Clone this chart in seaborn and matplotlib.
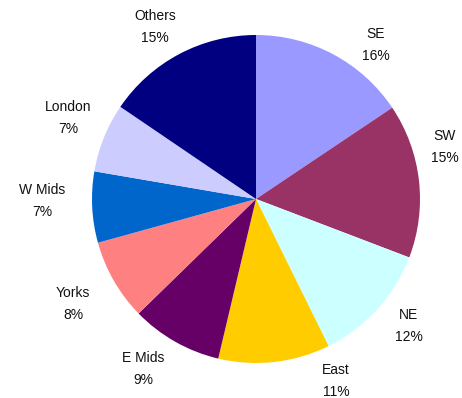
import seaborn as sns
import matplotlib.pyplot as plt

regions = ["SE", "SW", "NE", "East", "E Mids", "Yorks", "W Mids", "London", "Others"]
shares = [15.6, 15.2, 11.9, 11.0, 9.0, 8.0, 7.0, 6.8, 15.5]
pct_labels = ["16%", "15%", "12%", "11%", "9%", "8%", "7%", "7%", "15%"]
colors = ["#9999FF", "#993366", "#CCFFFF", "#FFCC00", "#660066",
          "#FF8080", "#0066CC", "#CCCCFF", "#000080"]

# label centres in pixels (Excel-style placement, not at slice midpoints)
label_px = [(376, 45), (445, 147), (409, 326), (336, 381), (143, 369),
            (73, 304), (42, 201), (68, 118), (155, 27)]

sns.set_style("white")
plt.rcParams["font.family"] = ["Liberation Sans", "DejaVu Sans"]

W, H = 462, 398
cx, cy, r = 256, 199, 164

fig = plt.figure(figsize=(W / 100, H / 100), dpi=100)
ax = fig.add_axes([0, 0, 1, 1])

labels = [f"{n}\n{p}" for n, p in zip(regions, pct_labels)]
wedges, texts = ax.pie(
    shares,
    labels=labels,
    colors=colors,
    startangle=90,
    counterclock=False,
    radius=1,
    labeldistance=1.2,
    wedgeprops=dict(linewidth=0),
    textprops=dict(fontsize=10, color="#111111", ha="center", va="center",
                   linespacing=1.8),
)

for t, (px, py) in zip(texts, label_px):
    t.set_position(((px - cx) / r, (cy - py) / r))
    t.set_horizontalalignment("center")

ax.set_xlim(-cx / r, (W - cx) / r)
ax.set_ylim(-(H - cy) / r, cy / r)
ax.set_aspect("equal")
ax.axis("off")

fig.savefig("out.png", dpi=100, facecolor="white")
